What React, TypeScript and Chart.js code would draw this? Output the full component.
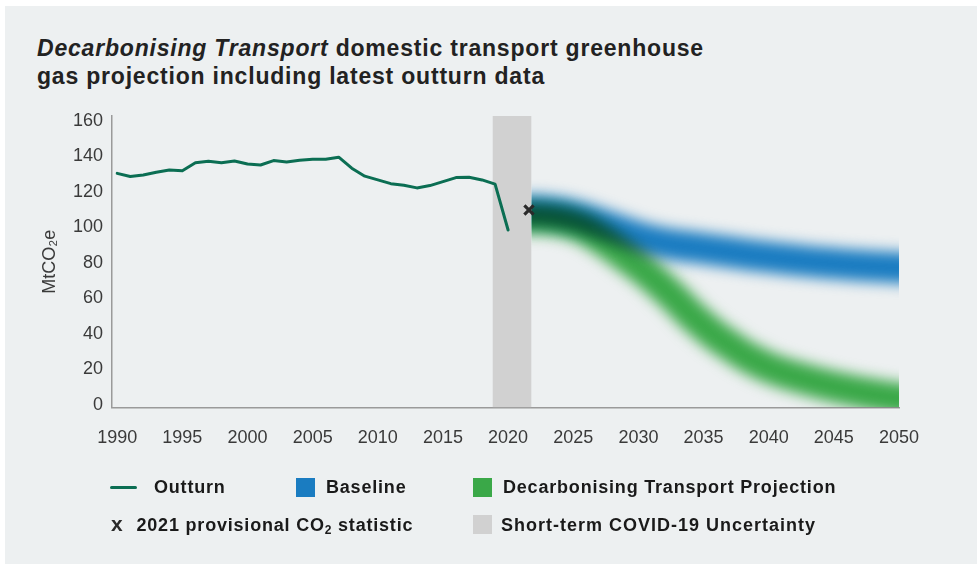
import { useEffect, useRef } from 'react';
import { Chart, registerables } from 'chart.js';

Chart.register(...registerables);

// ---------- data ----------
const OUTTURN_YEARS = [
  1990, 1991, 1992, 1993, 1994, 1995, 1996, 1997, 1998, 1999, 2000, 2001, 2002, 2003, 2004, 2005,
  2006, 2007, 2008, 2009, 2010, 2011, 2012, 2013, 2014, 2015, 2016, 2017, 2018, 2019, 2020,
];
const OUTTURN_VALUES = [
  130.4, 128.6, 129.5, 131.0, 132.3, 131.9, 136.4, 137.2, 136.4, 137.4, 135.7, 135.1, 137.6, 136.8,
  137.8, 138.3, 138.3, 139.5, 133.3, 128.8, 126.7, 124.6, 123.7, 122.2, 123.5, 125.7, 128.0, 128.2,
  126.7, 124.3, 98.5,
];

const PROVISIONAL_X = 2021.6;
const PROVISIONAL_VALUE = 109.8;

const PROJECTION_YEARS = [
  2021, 2022, 2023, 2024, 2025, 2026, 2027, 2028, 2029, 2030, 2031, 2032, 2033, 2034, 2035, 2036,
  2037, 2038, 2039, 2040, 2041, 2042, 2043, 2044, 2045, 2046, 2047, 2048, 2049, 2050,
];
const BASELINE_VALUES = [
  109.5, 109.5, 109, 108, 106.5, 104.5, 102, 99.5, 97, 94.5, 92.5, 91, 89.8, 89, 88, 87, 86, 85, 84,
  83.2, 82.4, 81.6, 80.8, 80.2, 79.6, 79, 78.5, 78, 77.6, 77.2,
];
const DECARB_VALUES = [
  105, 105, 104.5, 103.5, 101.5, 98.5, 94, 89, 83.5, 78, 72, 65.5, 58.5, 51, 44.5, 38.5, 33.5, 28.5,
  24.5, 21, 18.3, 16, 14, 12, 10.3, 8.7, 7.2, 5.9, 4.7, 3.6,
];

const COVID_START = 2018.8;
const COVID_END = 2021.8;

const X_MIN = 1989.6;
const X_MAX = 2050;
const X_TICKS = [1990, 1995, 2000, 2005, 2010, 2015, 2020, 2025, 2030, 2035, 2040, 2045, 2050];
const Y_MIN = -1.5;
const Y_MAX = 162.7;
const Y_TICKS = [0, 20, 40, 60, 80, 100, 120, 140, 160];

// ---------- styles ----------
const FONT = "'Liberation Sans', Arial, Helvetica, sans-serif";
const OUTTURN_COLOR = '#0b6e53';
const BASELINE_COLOR = '#1a7cc1';
const DECARB_COLOR = '#3aa848';
const COVID_COLOR = '#d1d1d1';
const AXIS_COLOR = '#9a9a9a';
const TICK_COLOR = '#3a3a3a';
const BAND_WIDTH = 31;
const BAND_BLUR = 7;

const bandPlugin = {
  id: 'bandBlur',
  beforeDatasetDraw(chart: any, args: any) {
    const ds = chart.data.datasets[args.index];
    if (!ds.blurBand) return;
    const { ctx, chartArea, scales } = chart;
    const x0 = scales.x.getPixelForValue(COVID_END);
    ctx.save();
    ctx.beginPath();
    ctx.rect(x0, chartArea.top, chartArea.right - x0, chartArea.bottom - chartArea.top);
    ctx.clip();
    ctx.filter = `blur(${BAND_BLUR}px)`;
    if (ds.multiply) ctx.globalCompositeOperation = 'multiply';
  },
  afterDatasetDraw(chart: any, args: any) {
    const ds = chart.data.datasets[args.index];
    if (!ds.blurBand) return;
    chart.ctx.restore();
  },
};

const pts = (xs: number[], ys: number[]) => xs.map((x, i) => ({ x, y: ys[i] }));

export default function App() {
  const canvasRef = useRef<HTMLCanvasElement | null>(null);

  useEffect(() => {
    const canvas = canvasRef.current;
    if (!canvas) return;
    const chart = new Chart(canvas, {
      type: 'line',
      data: {
        datasets: [
          {
            label: '2021 provisional CO2 statistic',
            data: [{ x: PROVISIONAL_X, y: PROVISIONAL_VALUE }],
            showLine: false,
            pointStyle: 'crossRot',
            pointRadius: 6.5,
            pointHoverRadius: 6.5,
            pointBorderWidth: 3.2,
            pointBorderColor: '#2a2a2a',
            pointBackgroundColor: '#2a2a2a',
            order: 0,
          } as any,
          {
            label: 'Outturn',
            data: pts(OUTTURN_YEARS, OUTTURN_VALUES),
            borderColor: OUTTURN_COLOR,
            borderWidth: 3,
            pointRadius: 0,
            tension: 0,
            borderJoinStyle: 'round',
            borderCapStyle: 'round',
            fill: false,
            order: 1,
          } as any,
          {
            label: 'Decarbonising Transport Projection',
            data: pts(PROJECTION_YEARS, DECARB_VALUES),
            borderColor: DECARB_COLOR,
            borderWidth: BAND_WIDTH,
            borderCapStyle: 'square',
            pointRadius: 0,
            cubicInterpolationMode: 'monotone',
            fill: false,
            blurBand: true,
            multiply: true,
            order: 2,
          } as any,
          {
            label: 'Baseline',
            data: pts(PROJECTION_YEARS, BASELINE_VALUES),
            borderColor: BASELINE_COLOR,
            borderWidth: BAND_WIDTH,
            borderCapStyle: 'square',
            pointRadius: 0,
            cubicInterpolationMode: 'monotone',
            fill: false,
            blurBand: true,
            order: 3,
          } as any,
          {
            label: 'Short-term COVID-19 Uncertainty',
            data: [
              { x: COVID_START, y: Y_MAX },
              { x: COVID_END, y: Y_MAX },
            ],
            borderColor: 'rgba(0,0,0,0)',
            borderWidth: 0,
            backgroundColor: COVID_COLOR,
            pointRadius: 0,
            tension: 0,
            fill: 'start',
            order: 4,
          } as any,
        ],
      },
      options: {
        responsive: false,
        animation: false,
        events: [],
        layout: { padding: { left: 0, top: 116, right: 78, bottom: 0 } },
        plugins: {
          legend: { display: false },
          tooltip: { enabled: false },
          title: { display: false },
        },
        scales: {
          x: {
            type: 'linear',
            min: X_MIN,
            max: X_MAX,
            afterBuildTicks: (s: any) => {
              s.ticks = X_TICKS.map((v) => ({ value: v }));
            },
            afterFit: (s: any) => {
              s.height = 564 - 407.5;
            },
            grid: { display: false, drawTicks: false },
            border: { display: true, color: AXIS_COLOR, width: 1.5 },
            ticks: {
              autoSkip: false,
              maxRotation: 0,
              padding: 20,
              color: TICK_COLOR,
              font: { family: FONT, size: 18 },
              callback: (v: any) => String(v),
            },
          },
          y: {
            type: 'linear',
            min: Y_MIN,
            max: Y_MAX,
            afterBuildTicks: (s: any) => {
              s.ticks = Y_TICKS.map((v) => ({ value: v }));
            },
            afterFit: (s: any) => {
              s.width = 112;
            },
            grid: { display: false, drawTicks: false },
            border: { display: true, color: AXIS_COLOR, width: 1.5 },
            ticks: {
              padding: 9,
              color: TICK_COLOR,
              font: { family: FONT, size: 18 },
              callback: (v: any) => String(v),
            },
            title: {
              display: true,
              text: 'MtCO₂e',
              color: TICK_COLOR,
              font: { family: FONT, size: 18 },
              padding: { top: 39, bottom: 0 },
            },
          },
        },
      } as any,
      plugins: [bandPlugin],
    });
    return () => chart.destroy();
  }, []);

  const legendText: any = {
    position: 'absolute',
    fontFamily: FONT,
    fontWeight: 'bold',
    fontSize: 18,
    lineHeight: '22px',
    letterSpacing: '0.8px',
    color: '#1a1a1a',
    whiteSpace: 'nowrap',
  };
  const square = (left: number, top: number, color: string): any => ({
    position: 'absolute',
    left,
    top,
    width: 19,
    height: 19,
    background: color,
  });

  return (
    <div
      style={{
        position: 'absolute',
        left: 0,
        top: 0,
        width: 977,
        height: 564,
        background: '#ffffff',
        overflow: 'hidden',
      }}
    >
      <div
        style={{
          position: 'absolute',
          left: 5,
          top: 6,
          width: 972,
          height: 558,
          background: '#edf0f1',
        }}
      />
      <div
        style={{
          position: 'absolute',
          left: 37,
          top: 34,
          fontFamily: FONT,
          fontWeight: 'bold',
          fontSize: 23,
          lineHeight: '28px',
          letterSpacing: '0.8px',
          color: '#222222',
          whiteSpace: 'nowrap',
        }}
      >
        <div>
          <i>Decarbonising Transport</i> domestic transport greenhouse
        </div>
        <div>gas projection including latest outturn data</div>
      </div>
      <canvas
        ref={canvasRef}
        width={977}
        height={564}
        style={{ position: 'absolute', left: 0, top: 0, width: 977, height: 564 }}
      />
      {/* legend row 1 */}
      <div
        style={{
          position: 'absolute',
          left: 110,
          top: 485.5,
          width: 27,
          height: 3.5,
          borderRadius: 2,
          background: OUTTURN_COLOR,
        }}
      />
      <div style={{ ...legendText, left: 154, top: 476 }}>Outturn</div>
      <div style={square(296, 478, BASELINE_COLOR)} />
      <div style={{ ...legendText, left: 326, top: 476 }}>Baseline</div>
      <div style={square(473, 478, DECARB_COLOR)} />
      <div style={{ ...legendText, left: 503, top: 476 }}>Decarbonising Transport Projection</div>
      {/* legend row 2 */}
      <div
        style={{
          ...legendText,
          left: 111,
          top: 511.5,
          fontSize: 21,
          lineHeight: '24px',
          letterSpacing: 0,
          color: '#2a2a2a',
        }}
      >
        x
      </div>
      <div style={{ ...legendText, left: 136.5, top: 513.5 }}>
        2021 provisional CO<sub style={{ fontSize: 12, verticalAlign: '-3px', lineHeight: 0 }}>2</sub> statistic
      </div>
      <div style={square(472.5, 514.5, COVID_COLOR)} />
      <div style={{ ...legendText, left: 501, top: 513.5, letterSpacing: '1px' }}>
        Short-term COVID-19 Uncertainty
      </div>
    </div>
  );
}
